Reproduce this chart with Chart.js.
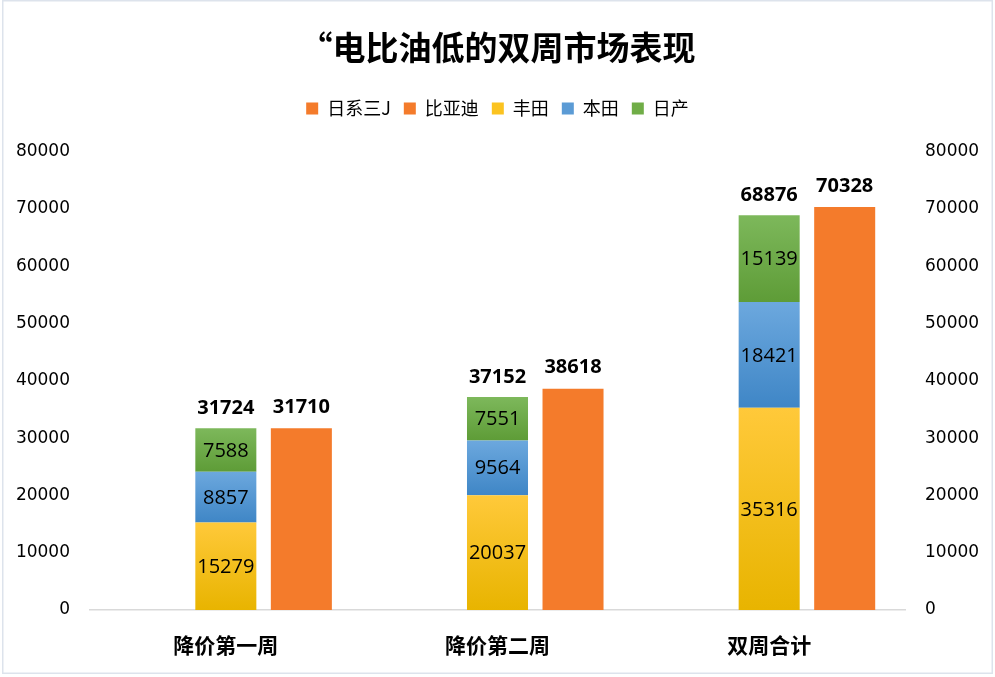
<!DOCTYPE html>
<html>
<head>
<meta charset="utf-8">
<script src="https://cdn.jsdelivr.net/npm/chart.js@4"></script>
<style>
  html, body { margin: 0; padding: 0; background: #fff; }
  #wrap { position: relative; width: 995px; height: 677px; }
</style>
</head>
<body>
<div id="wrap"><canvas id="c" width="995" height="677"></canvas></div>
<script>
// ---- data ----
const categories = ['降价第一周', '降价第二周', '双周合计'];
const japanTotal = [31724, 37152, 68876];   // 日系三J
const byd = [31710, 38618, 70328];          // 比亚迪
const toyota = [15279, 20037, 35316];       // 丰田
const honda = [8857, 9564, 18421];          // 本田
const nissan = [7588, 7551, 15139];         // 日产
const yTicks = [0, 10000, 20000, 30000, 40000, 50000, 60000, 70000, 80000];

const CJK = '"Noto Sans CJK SC", "Noto Sans", sans-serif';
const NUM = '"Open Sans", "DejaVu Sans", sans-serif';

const solid = {
  total: '#F47B2B', byd: '#F47B2B', toyota: '#FBC320', honda: '#5B9BD5', nissan: '#70AD47'
};
const grads = {
  toyota: ['#FFC93A', '#E8B400'],
  honda: ['#6CA8DE', '#3F86C6'],
  nissan: ['#7DB85B', '#5E9C37']
};
const stackOrder = [toyota, honda, nissan];

function gradFor(key, seriesIdx) {
  return function (ctx) {
    const chart = ctx.chart;
    const ys = chart.scales && chart.scales.y;
    if (!chart.chartArea || !ys || ctx.type !== 'data') return solid[key];
    const i = ctx.dataIndex;
    let start = 0;
    for (let k = 0; k < seriesIdx; k++) start += stackOrder[k][i];
    const end = start + stackOrder[seriesIdx][i];
    const y0 = ys.getPixelForValue(end);
    const y1 = ys.getPixelForValue(start);
    const g = chart.ctx.createLinearGradient(0, y0, 0, y1);
    g.addColorStop(0, grads[key][0]);
    g.addColorStop(1, grads[key][1]);
    return g;
  };
}

function patchLegend(chart) {
  const lg = chart.legend;
  if (lg && !lg._patched) {
    const orig = lg.fit;
    lg.fit = function () { orig.call(this); this.height += 24; };
    lg._patched = true;
  }
}

const framePlugin = {
  id: 'frame',
  beforeInit: patchLegend,
  afterInit: patchLegend,
  beforeDraw(chart) {
    const c = chart.ctx;
    c.save();
    c.fillStyle = '#fff';
    c.fillRect(0, 0, chart.width, chart.height);
    c.strokeStyle = '#DDE3EC';
    c.lineWidth = 1.5;
    c.strokeRect(2.75, 0.75, 989.5, 672.5);
    c.restore();
  }
};

const labelPlugin = {
  id: 'valueLabels',
  afterDatasetsDraw(chart) {
    const c = chart.ctx;
    const ys = chart.scales.y;
    c.save();
    c.textAlign = 'center';
    c.textBaseline = 'middle';
    c.fillStyle = '#000';
    [1, 2, 3].forEach(di => {
      const meta = chart.getDatasetMeta(di);
      const ds = chart.data.datasets[di];
      meta.data.forEach((bar, i) => {
        c.font = '20px ' + NUM;
        c.fillText(String(ds.data[i]), bar.x, (bar.y + bar.base) / 2 + 1);
      });
    });
    const mB = chart.getDatasetMeta(4);
    mB.data.forEach((bar, i) => {
      c.font = 'bold 20px ' + NUM;
      c.fillText(String(byd[i]), bar.x, bar.y - 21);
    });
    const mJ = chart.getDatasetMeta(1);
    mJ.data.forEach((bar, i) => {
      c.font = 'bold 20px ' + NUM;
      c.fillText(String(japanTotal[i]), bar.x, ys.getPixelForValue(japanTotal[i]) - 20);
    });
    c.restore();
  }
};

const legendOrder = [0, 4, 1, 2, 3];
const legendColors = [solid.total, solid.toyota, solid.honda, solid.nissan, solid.byd];
const tickFont = { family: '"DejaVu Sans", sans-serif', size: 17 };

new Chart(document.getElementById('c'), {
  type: 'bar',
  data: {
    labels: categories,
    datasets: [
      { label: '日系三J', data: japanTotal, stack: 'a', backgroundColor: 'rgba(0,0,0,0)' },
      { label: '丰田', data: toyota, stack: 'b', backgroundColor: gradFor('toyota', 0) },
      { label: '本田', data: honda, stack: 'b', backgroundColor: gradFor('honda', 1) },
      { label: '日产', data: nissan, stack: 'b', backgroundColor: gradFor('nissan', 2) },
      { label: '比亚迪', data: byd, stack: 'c', backgroundColor: solid.byd }
    ]
  },
  options: {
    responsive: false,
    animation: false,
    devicePixelRatio: 1,
    layout: { padding: { left: 15, right: 15, top: 0, bottom: 0 } },
    datasets: { bar: { categoryPercentage: 0.834, barPercentage: 0.808 } },
    scales: {
      x: {
        stacked: true,
        afterFit(axis) { axis.height = 67; },
        grid: { display: false, drawTicks: false },
        border: { display: true, color: '#D9D9D9', width: 1.5 },
        ticks: { color: '#000', padding: 22, maxRotation: 0, font: { family: CJK, size: 21, weight: 'bold' } }
      },
      y: {
        stacked: true,
        min: 0, max: 80000,
        afterBuildTicks(axis) { axis.ticks = yTicks.map(v => ({ value: v })); },
        afterFit(axis) { axis.width = 75; },
        grid: { display: false, drawTicks: false },
        border: { display: false },
        ticks: { color: '#000', padding: 20, font: tickFont, callback: v => String(v) }
      },
      y2: {
        position: 'right',
        min: 0, max: 80000,
        afterBuildTicks(axis) { axis.ticks = yTicks.map(v => ({ value: v })); },
        afterFit(axis) { axis.width = 75; },
        grid: { display: false, drawTicks: false },
        border: { display: false },
        ticks: { color: '#000', padding: 20, font: tickFont, callback: v => String(v) }
      }
    },
    plugins: {
      tooltip: { enabled: false },
      title: {
        display: true,
        text: '“电比油低的双周市场表现',
        color: '#000',
        font: { family: CJK, size: 33, weight: 'bold' },
        padding: { top: 28, bottom: 19 }
      },
      legend: {
        display: true,
        labels: {
          color: '#000',
          boxWidth: 12, boxHeight: 12,
          padding: 13,
          font: { family: CJK, size: 18 },
          generateLabels(chart) {
            const items = Chart.defaults.plugins.legend.labels.generateLabels(chart);
            items.forEach(it => {
              it.fillStyle = legendColors[it.datasetIndex];
              it.strokeStyle = 'rgba(0,0,0,0)';
              it.lineWidth = 0;
              it.hidden = false;
            });
            return items;
          },
          sort(a, b) { return legendOrder.indexOf(a.datasetIndex) - legendOrder.indexOf(b.datasetIndex); }
        },
        onClick() {}
      }
    }
  },
  plugins: [framePlugin, labelPlugin]
});
</script>
</body>
</html>
